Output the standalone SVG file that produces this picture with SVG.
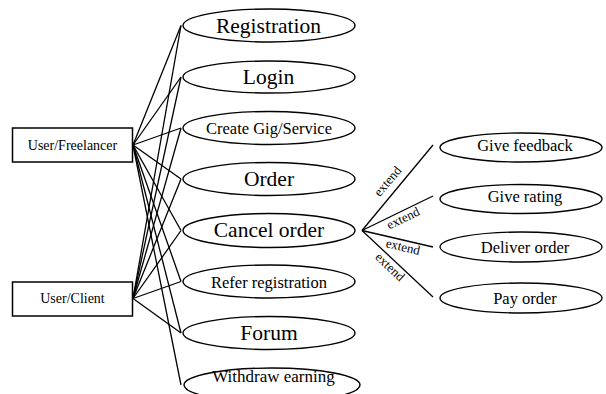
<svg xmlns="http://www.w3.org/2000/svg" width="606" height="394" viewBox="0 0 606 394">
<style>
.uc{fill:#fff;stroke:#000;stroke-width:1.4}
.act{fill:#fff;stroke:#000;stroke-width:1.5}
text{font-family:"Liberation Serif","Times New Roman",serif;fill:#000;text-anchor:middle}
.big{font-size:21.5px}
.mid{font-size:16.5px}
.sm{font-size:14px}
.ext{font-size:13px}
#connectors line{stroke:#000;stroke-width:1.3}
</style>
<rect width="606" height="394" fill="#fff"/>
<g id="connectors">
<line x1="133" y1="145" x2="181" y2="25.5"/>
<line x1="133" y1="145" x2="181" y2="77"/>
<line x1="133" y1="145" x2="181" y2="128"/>
<line x1="133" y1="145" x2="181" y2="179"/>
<line x1="133" y1="145" x2="181" y2="230.5"/>
<line x1="133" y1="145" x2="181" y2="281.5"/>
<line x1="133" y1="145" x2="181" y2="333"/>
<line x1="133" y1="145" x2="181" y2="385"/>
<line x1="133" y1="298.5" x2="181" y2="25.5"/>
<line x1="133" y1="298.5" x2="181" y2="77"/>
<line x1="133" y1="298.5" x2="181" y2="128"/>
<line x1="133" y1="298.5" x2="181" y2="179"/>
<line x1="133" y1="298.5" x2="181" y2="230.5"/>
<line x1="133" y1="298.5" x2="181" y2="281.5"/>
<line x1="133" y1="298.5" x2="181" y2="333"/>
<line x1="362" y1="230.5" x2="433" y2="145"/>
<line x1="362" y1="230.5" x2="433" y2="196"/>
<line x1="362" y1="230.5" x2="433" y2="247"/>
<line x1="362" y1="230.5" x2="433" y2="297"/>
<text class="ext" transform="translate(391,184) rotate(-50)">extend</text>
<text class="ext" transform="translate(405,222) rotate(-25.6)">extend</text>
<text class="ext" transform="translate(402,251) rotate(13.5)">extend</text>
<text class="ext" transform="translate(387,270) rotate(43.3)">extend</text>
</g>
<g id="actor-freelancer">
<rect class="act" x="12.5" y="128" width="120" height="34"/>
<text class="sm" x="72.5" y="150">User/Freelancer</text>
</g>
<g id="actor-client">
<rect class="act" x="12.5" y="282" width="120" height="34"/>
<text class="sm" x="72.5" y="303">User/Client</text>
</g>
<g id="uc-registration">
<ellipse class="uc" cx="269" cy="25.5" rx="86" ry="16.5"/>
<text class="big" x="268.5" y="32.5">Registration</text>
</g>
<g id="uc-login">
<ellipse class="uc" cx="269" cy="77" rx="86" ry="16"/>
<text class="big" x="268.5" y="83.5">Login</text>
</g>
<g id="uc-create-gig">
<ellipse class="uc" cx="269" cy="128" rx="86" ry="16.5"/>
<text class="mid" x="269" y="133.5">Create Gig/Service</text>
</g>
<g id="uc-order">
<ellipse class="uc" cx="269" cy="179" rx="86" ry="16.5"/>
<text class="big" x="269" y="186">Order</text>
</g>
<g id="uc-cancel-order">
<ellipse class="uc" cx="269" cy="230.5" rx="86" ry="17"/>
<text class="big" x="269" y="237">Cancel order</text>
</g>
<g id="uc-refer">
<ellipse class="uc" cx="269" cy="281.5" rx="86" ry="16.5"/>
<text class="mid" x="269" y="287.5">Refer registration</text>
</g>
<g id="uc-forum">
<ellipse class="uc" cx="269" cy="333" rx="86" ry="16.5"/>
<text class="big" x="269" y="340">Forum</text>
</g>
<g id="uc-withdraw">
<ellipse class="uc" cx="272" cy="385" rx="88" ry="17"/>
<text class="mid" x="273.5" y="382" style="font-size:17px">Withdraw earning</text>
</g>
<g id="uc-feedback">
<ellipse class="uc" cx="521" cy="147.5" rx="81" ry="14.5"/>
<text class="mid" x="525" y="150.5">Give feedback</text>
</g>
<g id="uc-rating">
<ellipse class="uc" cx="521" cy="199" rx="81" ry="14.5"/>
<text class="mid" x="525" y="202">Give rating</text>
</g>
<g id="uc-deliver">
<ellipse class="uc" cx="521" cy="247" rx="81" ry="15"/>
<text class="mid" x="525" y="252.5">Deliver order</text>
</g>
<g id="uc-pay">
<ellipse class="uc" cx="521" cy="298" rx="81" ry="15"/>
<text class="mid" x="525" y="304">Pay order</text>
</g>
</svg>
